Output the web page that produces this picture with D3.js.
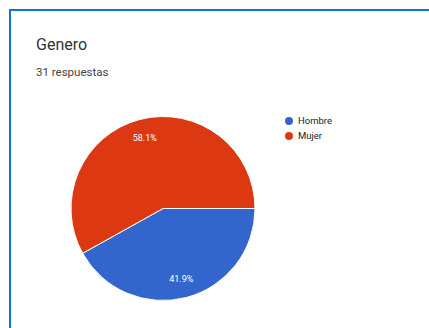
<!DOCTYPE html>
<html>
<head>
<meta charset="utf-8">
<script src="https://cdn.jsdelivr.net/npm/d3@7"></script>
<style>
  html, body { margin: 0; padding: 0; background: #ffffff; }
  svg { display: block; font-family: Roboto, "Noto Sans", Arial, sans-serif; }
</style>
</head>
<body>
<svg id="chart" width="429" height="328"></svg>
<script>
// Survey question and its answers
const title = "Genero";
const subtitle = "31 respuestas";
const categories = ["Hombre", "Mujer"];
const percentages = [41.9, 58.1];
const colors = ["#3366cc", "#dc3912"];

const svg = d3.select("#chart");
const W = 429, H = 328;

// card background with blue top/left edge
svg.append("rect").attr("x", 0).attr("y", 0).attr("width", W).attr("height", H).attr("fill", "#ffffff");
svg.append("line").attr("x1", 10).attr("y1", 10).attr("x2", W).attr("y2", 10)
  .attr("stroke", "#0f74d2").attr("stroke-width", 2);
svg.append("line").attr("x1", 10).attr("y1", 9).attr("x2", 10).attr("y2", H)
  .attr("stroke", "#0f74d2").attr("stroke-width", 2);

// heading
svg.append("text").attr("x", 36).attr("y", 50)
  .attr("font-size", 16).attr("fill", "#333333").text(title);
svg.append("text").attr("x", 36).attr("y", 76)
  .attr("font-size", 11.5).attr("fill", "#444444").text(subtitle);

// pie
const cx = 163, cy = 208.5, r = 92;
const data = categories.map((c, i) => ({ name: c, value: percentages[i], color: colors[i] }));

const pie = d3.pie()
  .value(d => d.value)
  .sort(null)
  .startAngle(Math.PI / 2)
  .endAngle(Math.PI / 2 + 2 * Math.PI);

const arc = d3.arc().innerRadius(0).outerRadius(r);
const labelArc = d3.arc().innerRadius(r * 0.79).outerRadius(r * 0.79);

const g = svg.append("g").attr("transform", `translate(${cx},${cy})`);
const slices = pie(data);

g.selectAll("path.slice")
  .data(slices)
  .join("path")
  .attr("class", "slice")
  .attr("d", arc)
  .attr("fill", d => d.data.color)
  .attr("stroke", "#ffffff")
  .attr("stroke-width", 1);

g.selectAll("text.pct")
  .data(slices)
  .join("text")
  .attr("class", "pct")
  .attr("transform", d => `translate(${labelArc.centroid(d)})`)
  .attr("text-anchor", "middle")
  .attr("dy", "0.35em")
  .attr("font-size", 9)
  .attr("fill", "#ffffff")
  .text(d => d.data.value.toFixed(1) + "%");

// legend
const legend = svg.append("g").attr("transform", "translate(289,121)");
const items = legend.selectAll("g.item")
  .data(data)
  .join("g")
  .attr("class", "item")
  .attr("transform", (d, i) => `translate(0,${i * 15})`);
items.append("circle").attr("r", 4).attr("fill", d => d.color);
items.append("text").attr("x", 9).attr("dy", "0.35em")
  .attr("font-size", 9.5).attr("fill", "#222222").text(d => d.name);
</script>
</body>
</html>
